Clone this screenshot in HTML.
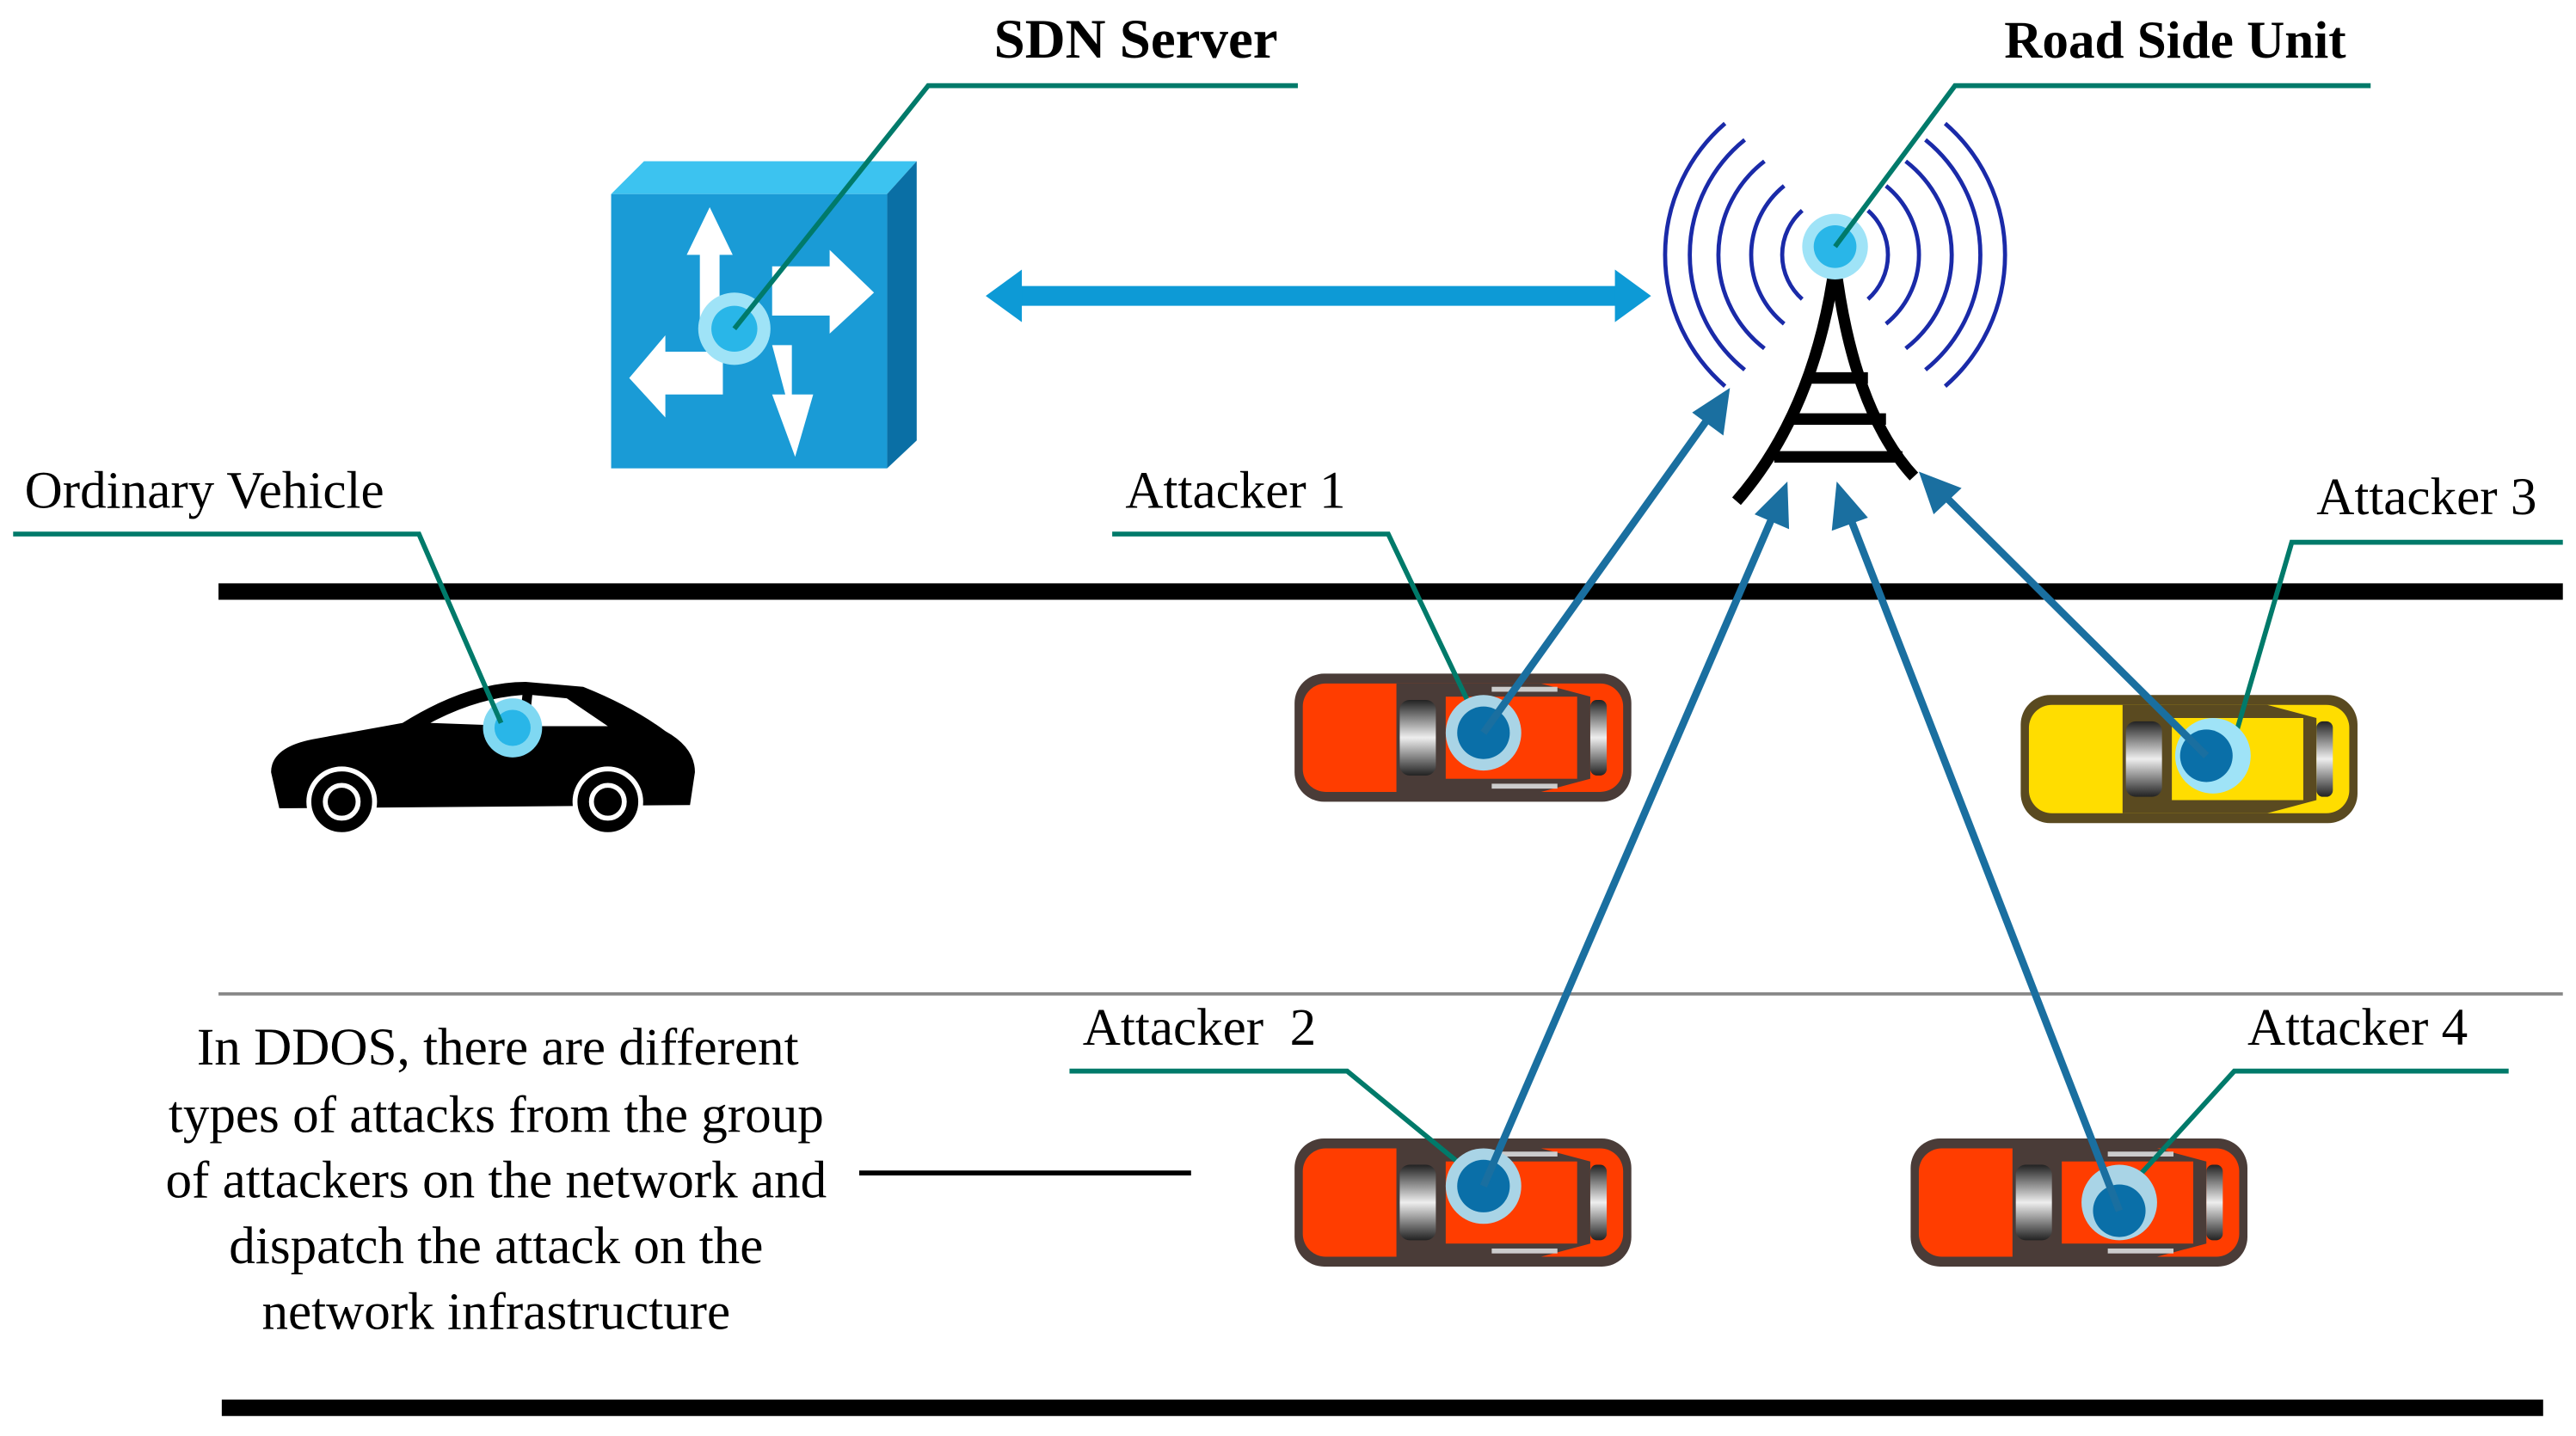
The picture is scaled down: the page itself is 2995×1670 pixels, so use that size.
<!DOCTYPE html>
<html><head><meta charset="utf-8"><style>html,body{margin:0;padding:0;background:#fff}svg{display:block}</style></head>
<body>
<svg width="2995" height="1670" viewBox="0 0 1568 874" xmlns="http://www.w3.org/2000/svg" font-family="'Liberation Serif',serif">
<defs>
<linearGradient id="gw" x1="0" y1="0" x2="0" y2="1"><stop offset="0" stop-color="#222"/><stop offset="0.5" stop-color="#eee"/><stop offset="1" stop-color="#222"/></linearGradient>
<g id="carR">
<rect x="0" y="0" width="205" height="78" rx="18" fill="#4a3c38"/>
<rect x="5" y="6" width="195" height="66" rx="14" fill="#ff3d00"/>
<path d="M62 6 H150 L180 14 V64 L150 72 H62 Z" fill="#4a3c38"/>
<rect x="64" y="16" width="22" height="46" rx="6" fill="url(#gw)"/>
<rect x="92" y="14" width="80" height="50" fill="#ff3d00"/>
<rect x="180" y="16" width="10" height="46" rx="4" fill="url(#gw)"/>
<rect x="120" y="8" width="40" height="3" fill="#ccc"/><rect x="120" y="67" width="40" height="3" fill="#ccc"/>
</g>
</defs>
<rect width="1568" height="874" fill="#fff"/>
<line x1="133" y1="360" x2="1560" y2="360" stroke="#000" stroke-width="10"/>
<line x1="133" y1="605" x2="1560" y2="605" stroke="#888" stroke-width="2"/>
<line x1="135" y1="857" x2="1548" y2="857" stroke="#000" stroke-width="10"/>
<polygon points="372,118 392,98 558,98 540,118" fill="#3cc3f0"/>
<polygon points="540,118 558,98 558,268 540,285" fill="#0a6fa5"/>
<rect x="372" y="118" width="168" height="167" fill="#1a9bd6"/>
<g fill="#fff">
<polygon points="418,155 432,126 446,155 438,155 438,195 426,195 426,155"/>
<polygon points="470,162 505,162 505,152 532,178 505,203 505,192 470,192"/>
<polygon points="470,210 482,210 482,240 495,240 484,278 470,240 478,240"/>
<polygon points="383,230 405,204 405,214 440,214 440,240 405,240 405,254"/>
</g>
<circle cx="447" cy="200" r="22" fill="#9fe3f7"/><circle cx="447" cy="200" r="14" fill="#29b6e8"/>
<line x1="620" y1="180" x2="985" y2="180" stroke="#0d9ad6" stroke-width="12"/>
<polygon points="600,180 622,164 622,196" fill="#0d9ad6"/><polygon points="1005,180 983,164 983,196" fill="#0d9ad6"/>
<g fill="none" stroke="#1a2aa8" stroke-width="2.5">
<path d="M1097 128 A36 36 0 0 0 1097 182"/><path d="M1086 113 A54 54 0 0 0 1086 197"/><path d="M1074 98 A72 72 0 0 0 1074 212"/><path d="M1062 85 A90 90 0 0 0 1062 225"/><path d="M1050 75 A106 106 0 0 0 1050 235"/>
<path d="M1137 128 A36 36 0 0 1 1137 182"/><path d="M1148 113 A54 54 0 0 1 1148 197"/><path d="M1160 98 A72 72 0 0 1 1160 212"/><path d="M1172 85 A90 90 0 0 1 1172 225"/><path d="M1184 75 A106 106 0 0 1 1184 235"/>
</g>
<g stroke="#000" stroke-width="7" fill="none">
<path d="M1117 160 Q1105 250 1057 305"/><path d="M1117 160 Q1128 250 1165 290"/>
<line x1="1098" y1="230" x2="1137" y2="230"/><line x1="1090" y1="255" x2="1148" y2="255"/><line x1="1080" y1="278" x2="1158" y2="278"/>
</g>
<circle cx="1117" cy="150" r="20" fill="#9fe3f7"/><circle cx="1117" cy="150" r="13" fill="#29b6e8"/>
<path d="M165 470 Q165 455 190 450 L245 440 Q285 415 320 415 L355 418 Q385 430 405 445 Q423 455 423 470 L420 490 L170 492 Z" fill="#000"/>
<path d="M262 440 Q290 425 318 423 L316 442 Z M324 423 L345 425 L370 442 L322 442 Z" fill="#fff"/>
<circle cx="208" cy="488" r="20" fill="#000" stroke="#fff" stroke-width="3"/><circle cx="208" cy="488" r="10" fill="none" stroke="#fff" stroke-width="3"/>
<circle cx="370" cy="488" r="20" fill="#000" stroke="#fff" stroke-width="3"/><circle cx="370" cy="488" r="10" fill="none" stroke="#fff" stroke-width="3"/>
<circle cx="312" cy="443" r="18" fill="#7fd8f2"/><circle cx="312" cy="443" r="11" fill="#29b6e8"/>
<use href="#carR" x="788" y="410"/>
<use href="#carR" x="788" y="693"/>
<use href="#carR" x="1163" y="693"/>
<g transform="translate(1230,423)">
<rect x="0" y="0" width="205" height="78" rx="18" fill="#5a4a20"/>
<rect x="5" y="6" width="195" height="66" rx="14" fill="#ffdd00"/>
<path d="M62 6 H150 L180 14 V64 L150 72 H62 Z" fill="#5a4a20"/>
<rect x="64" y="16" width="22" height="46" rx="6" fill="url(#gw)"/>
<rect x="92" y="14" width="80" height="50" fill="#ffdd00"/>
<rect x="180" y="16" width="10" height="46" rx="4" fill="url(#gw)"/>
</g>
<g stroke="#007a6a" stroke-width="3" fill="none">
<polyline points="790,52 565,52 447,200"/>
<polyline points="1443,52 1190,52 1117,150"/>
<polyline points="8,325 255,325 305,440"/>
<polyline points="677,325 845,325 895,430"/>
<polyline points="1560,330 1395,330 1360,450"/>
<polyline points="651,652 820,652 893,712"/>
<polyline points="1527,652 1360,652 1300,718"/>
</g>
<circle cx="903" cy="446" r="23" fill="#a9d4e6"/><circle cx="903" cy="446" r="16" fill="#0a6fa8"/>
<circle cx="1347" cy="460" r="23" fill="#9fe3f7"/><circle cx="1343" cy="460" r="16" fill="#0a6fa8"/>
<circle cx="903" cy="722" r="23" fill="#a9d4e6"/><circle cx="903" cy="722" r="16" fill="#0a6fa8"/>
<circle cx="1290" cy="732" r="23" fill="#a9d4e6"/><circle cx="1290" cy="737" r="16" fill="#0a6fa8"/>
<g stroke="#1a6fa0" stroke-width="4.5">
<line x1="903" y1="446" x2="1043" y2="250"/>
<line x1="903" y1="722" x2="1080" y2="312"/>
<line x1="1290" y1="737" x2="1125" y2="312"/>
<line x1="1343" y1="460" x2="1182" y2="300"/>
</g>
<g fill="#1a6fa0">
<polygon points="1053,236 1049,265 1030,251"/>
<polygon points="1088,293 1089,322 1068,313"/>
<polygon points="1118,293 1137,315 1115,323"/>
<polygon points="1168,287 1194,297 1177,313"/>
</g>
<g font-size="32" fill="#000">
<text x="605" y="35" font-weight="bold" font-size="34">SDN Server</text>
<text x="1220" y="35" font-weight="bold" font-size="32">Road Side Unit</text>
<text x="15" y="309">Ordinary Vehicle</text>
<text x="685" y="309">Attacker 1</text>
<text x="1410" y="313">Attacker 3</text>
<text x="659" y="636" xml:space="preserve">Attacker  2</text>
<text x="1368" y="636">Attacker 4</text>
<g text-anchor="middle">
<text x="303" y="648">In DDOS, there are different</text>
<text x="302" y="689">types of attacks from the group</text>
<text x="302" y="729">of attackers on the network and</text>
<text x="302" y="769">dispatch the attack on the</text>
<text x="302" y="809">network infrastructure</text>
</g>
</g>
<line x1="523" y1="714" x2="725" y2="714" stroke="#000" stroke-width="3"/>
</svg>
</body></html>
